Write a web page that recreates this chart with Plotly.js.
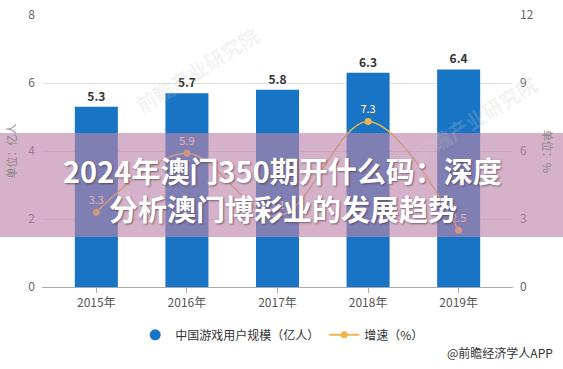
<!DOCTYPE html>
<html><head><meta charset="utf-8">
<script src="https://cdn.plot.ly/plotly-3.0.1.min.js"></script>
<style>html,body{margin:0;padding:0;background:#fff}#c{width:563px;height:369px}</style>
</head><body><div id="c"></div>
<script>
const years = ['2015年','2016年','2017年','2018年','2019年'];
const users = [5.3, 5.7, 5.8, 6.3, 6.4];
const growth = [3.3, 5.9, 3.1, 7.3, 2.5];
const barName = '中国游戏用户规模（亿人）';
const lineName = '增速（%）';
const titleLines = ['2024年澳门350期开什么码：深度', '分析澳门博彩业的发展趋势'];
const font = '"Noto Sans CJK SC", "Noto Sans", sans-serif';

const traces = [
  {type:'bar', x:years, y:users, name:barName, showlegend:false,
   marker:{color:'#1874c4'}, width:0.475,
   text:users.map(v=>v.toFixed(1)), textposition:'outside', cliponaxis:false,
   textfont:{family:font, size:12, color:'#333', weight:'bold'}},
  {type:'scatter', mode:'lines+markers+text', x:years, y:growth, yaxis:'y2', name:lineName, showlegend:false,
   line:{color:'#eeb64a', width:1.5, shape:'spline'}, marker:{color:'#eeb64a', size:7},
   text:growth.map(v=>v.toFixed(1)), textposition:'top center',
   textfont:{family:font, size:11, color:'#fff', shadow:'1px 1px 1px #666'}},
  {type:'scatter', mode:'markers', x:[null], y:[null], name:barName, marker:{color:'#1874c4', size:11, symbol:'circle'}},
  {type:'scatter', mode:'lines+markers', x:[null], y:[null], yaxis:'y2', name:lineName, line:{color:'#eeb64a', width:2}, marker:{color:'#eeb64a', size:7}}
];

const layout = {
  width:563, height:369,
  margin:{l:42, r:50, t:15, b:82},
  paper_bgcolor:'#fff', plot_bgcolor:'#fff',
  font:{family:font, size:12, color:'#666'},
  bargap:0.5,
  xaxis:{type:'category', range:[-0.6,4.6], showline:true, linecolor:'#aaa', ticks:'outside', ticklen:5, tickcolor:'#aaa',
    tickfont:{size:12, color:'#555'}, showgrid:false, fixedrange:true},
  yaxis:{range:[0,8], dtick:2, showgrid:true, gridcolor:'#e3e3e3', zeroline:false, tickfont:{size:12, color:'#666'}, ticklabelstandoff:6},
  yaxis2:{range:[0,12], dtick:3, overlaying:'y', side:'right', showgrid:false, zeroline:false, tickfont:{size:12, color:'#666'}, ticklabelstandoff:6},
  showlegend:true,
  legend:{orientation:'h', x:0.51, xanchor:'center', y:-0.176, yanchor:'middle', font:{size:12, color:'#333'}, itemwidth:30},
  shapes:[
    {type:'rect', xref:'paper', yref:'paper', x0:-0.2, x1:1.2, y0:0.184, y1:0.566, fillcolor:'rgba(190,133,171,0.63)', line:{width:0}, layer:'above'}
  ],
  annotations:[
    {xref:'paper', yref:'paper', x:0.33, y:0.8, xanchor:'center', yanchor:'middle', text:'前瞻产业研究院', textangle:-32, showarrow:false, font:{size:20, color:'rgba(200,200,200,0.22)', weight:'bold'}},
    {xref:'paper', yref:'paper', x:0.92, y:0.62, xanchor:'center', yanchor:'middle', text:'前瞻产业研究院', textangle:-32, showarrow:false, font:{size:20, color:'rgba(200,200,200,0.22)', weight:'bold'}},
    {xref:'paper', yref:'paper', x:-0.065, y:0.5, xanchor:'center', yanchor:'middle', text:'单位：亿人', textangle:-90, showarrow:false, font:{size:11, color:'#888'}},
    {xref:'paper', yref:'paper', x:1.075, y:0.5, xanchor:'center', yanchor:'middle', text:'单位：%', textangle:90, showarrow:false, font:{size:11, color:'#888'}},
    {xref:'paper', yref:'paper', x:0.511, y:0.43, xanchor:'center', yanchor:'middle', text:titleLines[0], showarrow:false, font:{size:29, color:'#fff', weight:'bold', shadow:'1px 1px 2px rgba(60,40,60,0.6)'}},
    {xref:'paper', yref:'paper', x:0.511, y:0.29, xanchor:'center', yanchor:'middle', text:titleLines[1], showarrow:false, font:{size:29, color:'#fff', weight:'bold', shadow:'1px 1px 2px rgba(60,40,60,0.6)'}},
    {xref:'paper', yref:'paper', x:1.09, xanchor:'right', y:-0.24, yanchor:'middle', text:'@前瞻经济学人APP', showarrow:false, font:{size:12, color:'#333'}}
  ]
};
Plotly.newPlot('c', traces, layout, {displayModeBar:false, staticPlot:true});
</script></body></html>
